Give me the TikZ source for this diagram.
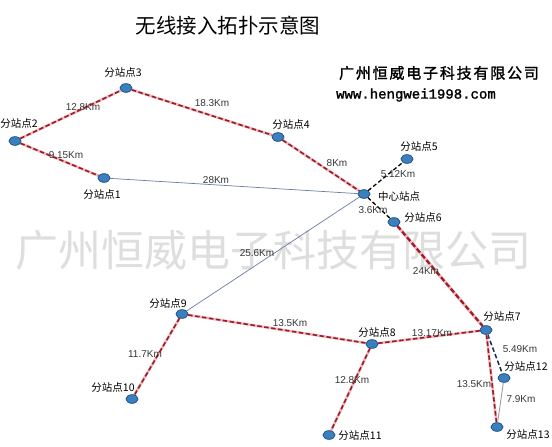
\documentclass[tikz,border=0pt]{standalone}
\usepackage{fontspec}
\setmainfont{Liberation Sans}
\newfontfamily\cjk{Noto Sans CJK SC}
\newfontfamily\cjkb{Noto Sans CJK SC}[FakeBold=1.5,LetterSpace=12]
\newfontfamily\wwwfont{Liberation Mono}[FakeBold=1.5]
\usetikzlibrary{shapes.geometric}
\definecolor{linkred}{RGB}{155,28,38}
\definecolor{halopink}{RGB}{238,185,190}
\definecolor{nodeblue}{RGB}{58,128,190}
\definecolor{nodeedge}{RGB}{32,82,135}
\definecolor{thinblue}{RGB}{105,125,160}
\definecolor{thingray}{RGB}{150,150,150}
\definecolor{navy}{RGB}{25,40,80}
\definecolor{wmark}{RGB}{222,222,222}
\definecolor{lbl}{RGB}{55,55,55}
\tikzset{
  station/.style={ellipse,draw=nodeedge,fill=nodeblue,line width=0.6pt,minimum width=12pt,minimum height=8.5pt,inner sep=0pt},
  stname/.style={font=\cjk\fontsize{10.5}{12}\selectfont,text=black,inner sep=0pt},
  dist/.style={font=\fontsize{10}{12}\selectfont,text=lbl,inner sep=0pt},
  redlink/.style={draw=linkred,line width=1.6pt,dash pattern=on 4.5pt off 2.5pt,preaction={draw=halopink,line width=2.6pt,solid}},
  thicklink/.style={draw=linkred,line width=2.2pt,dash pattern=on 5pt off 2.5pt,preaction={draw=halopink,line width=3.2pt,solid}},
  blacklink/.style={draw=black,line width=1.3pt,dash pattern=on 4pt off 2.5pt},
  navylink/.style={draw=navy,line width=1.5pt,dash pattern=on 4.5pt off 2.5pt},
  thinlink/.style={draw=thinblue,line width=0.7pt},
  graylink/.style={draw=thingray,line width=0.8pt}
}
\begin{document}
\begin{tikzpicture}[x=1pt,y=-1pt]
\useasboundingbox[fill=white] (0,0) rectangle (552,447);
% watermark
\node[font=\cjk\fontsize{43}{46}\selectfont,text=wmark,inner sep=0pt] (wm) at (274,250) {广州恒威电子科技有限公司};
% title and company
\node[font=\cjk\fontsize{20.5}{24}\selectfont,inner sep=0pt] (title) at (228,26) {无线接入拓扑示意图};
\node[font=\cjkb\fontsize{15}{17}\selectfont,inner sep=0pt] (comp) at (439,73) {广州恒威电子科技有限公司};
\node[font=\wwwfont\fontsize{14}{16}\selectfont,inner sep=0pt] (www) at (416,95) {www.hengwei1998.com};
% stations
\node[station] (s3) at (126,88) {};
\node[station] (s2) at (15,141) {};
\node[station] (s1) at (104,178) {};
\node[station] (s4) at (278,137) {};
\node[station] (c) at (364,194) {};
\node[station] (s5) at (407,159) {};
\node[station] (s6) at (394,222) {};
\node[station] (s9) at (182,314) {};
\node[station] (s10) at (132,399) {};
\node[station] (s8) at (372,344) {};
\node[station] (s11) at (329,435) {};
\node[station] (s7) at (486,330) {};
\node[station] (s12) at (504,378) {};
\node[station] (s13) at (497,427) {};
% links
\draw[thinlink] (s1) -- (c);
\draw[thinlink] (c) -- (s9);
\draw[graylink] (s12) -- (s13);
\draw[redlink] (s2) -- (s3);
\draw[redlink] (s3) -- (s4);
\draw[redlink] (s4) -- (c);
\draw[redlink] (s2) -- (s1);
\draw[blacklink] (c) -- (s5);
\draw[blacklink] (c) -- (s6);
\draw[thicklink] (s6) -- (s7);
\draw[redlink] (s9) -- (s10);
\draw[redlink] (s9) -- (s8);
\draw[redlink] (s8) -- (s11);
\draw[redlink] (s8) -- (s7);
\draw[navylink] (s7) -- (s12);
\draw[redlink] (s7) -- (s13);
% redraw stations on top
\foreach \n/\p in {s3/{(126,88)},s2/{(15,141)},s1/{(104,178)},s4/{(278,137)},c/{(364,194)},s5/{(407,159)},s6/{(394,222)},s9/{(182,314)},s10/{(132,399)},s8/{(372,344)},s11/{(329,435)},s7/{(486,330)},s12/{(504,378)},s13/{(497,427)}}
  \node[station] at \p {};
% station names
\node[stname] (n3) at (123,73) {分站点3};
\node[stname] (n2) at (19,124) {分站点2};
\node[stname] (n1) at (102,195) {分站点1};
\node[stname] (n4) at (291,125) {分站点4};
\node[stname] (nc) at (399,196) {中心站点};
\node[stname] (n5) at (419,147) {分站点5};
\node[stname] (n6) at (423,218) {分站点6};
\node[stname] (n9) at (168,304) {分站点9};
\node[stname] (n10) at (113,388) {分站点10};
\node[stname] (n8) at (377,333) {分站点8};
\node[stname] (n11) at (360,436) {分站点11};
\node[stname] (n7) at (502,317) {分站点7};
\node[stname] (n12) at (526,367) {分站点12};
\node[stname] (n13) at (528,435) {分站点13};
% distances
\node[dist] (d23) at (83,107) {12.8Km};
\node[dist] (d34) at (212,103) {18.3Km};
\node[dist] (d21) at (66,155) {9.15Km};
\node[dist] (d1c) at (216,180) {28Km};
\node[dist] (d4c) at (337,163) {8Km};
\node[dist] (dc5) at (398,174) {5.12Km};
\node[dist] (dc6) at (373,210) {3.6Km};
\node[dist] (dc9) at (257,253) {25.6Km};
\node[dist] (d67) at (426,271) {24Km};
\node[dist] (d98) at (290,323) {13.5Km};
\node[dist] (d910) at (145,354) {11.7Km};
\node[dist] (d811) at (352,380) {12.8Km};
\node[dist] (d87) at (432,333) {13.17Km};
\node[dist] (d712) at (520,349) {5.49Km};
\node[dist] (d713) at (474,384) {13.5Km};
\node[dist] (d1213) at (521,399) {7.9Km};
\end{tikzpicture}
\end{document}
